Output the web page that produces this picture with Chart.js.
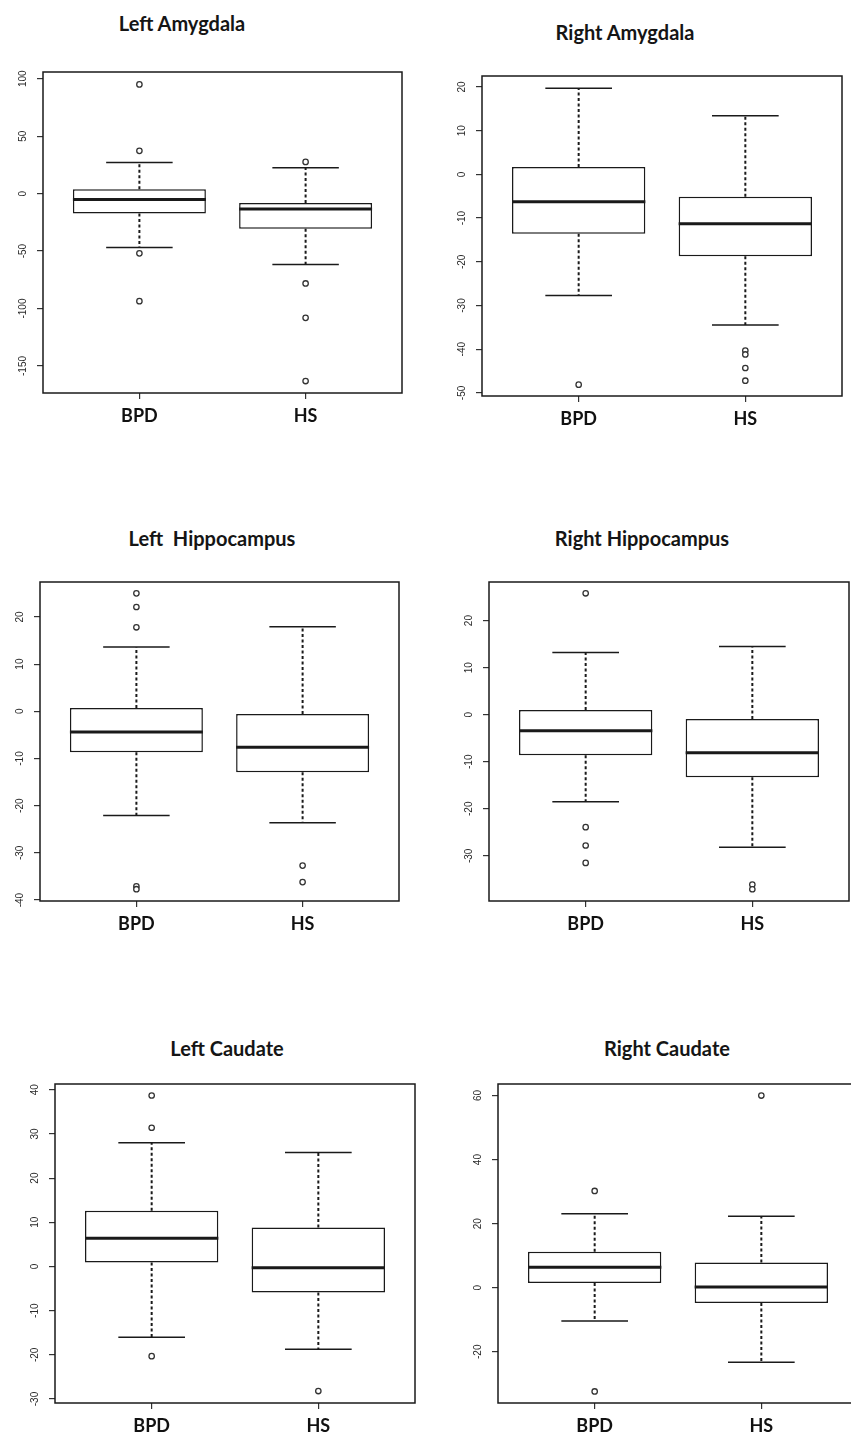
<!DOCTYPE html>
<html>
<head>
<meta charset="utf-8">
<title>BPD vs HS volumes</title>
<script src="https://cdn.jsdelivr.net/npm/chart.js@4.4.0/dist/chart.umd.min.js"></script>
<style>
  html, body { margin: 0; padding: 0; background: #fff; }
  body { position: relative; width: 851px; height: 1435px; overflow: hidden; }
  canvas.panel { position: absolute; }
  .title {
    position: absolute;
    font-family: Lato, "Open Sans", sans-serif;
    font-weight: bold;
    font-size: 20px;
    color: #151515;
    white-space: pre;
    transform: translate(-50%, -50%);
  }
</style>
</head>
<body>
<script>
// regions and groups
const regions = ['Left Amygdala', 'Right Amygdala', 'Left  Hippocampus', 'Right Hippocampus', 'Left Caudate', 'Right Caudate'];
const groups = ['BPD', 'HS'];

// [lower whisker, Q1, median, Q3, upper whisker] per region
const bpdStats = [
  [-46.8, -17.4, -5.2, 3.8, 27],
  [-27.7, -13.6, -6.25, 1.7, 19.7],
  [-22.1, -8.7, -4.4, 0.7, 13.6],
  [-18.5, -8.6, -3.4, 1.0, 13.2],
  [-16, 0.9, 6.4, 12.6, 28],
  [-10.4, 1.5, 6.4, 11.2, 23.1]
];
const hsStats = [
  [-61.6, -30.5, -13.4, -8.1, 22.4],
  [-34.45, -18.75, -11.3, -5.1, 13.4],
  [-23.6, -12.9, -7.6, -0.56, 17.9],
  [-28.2, -13.3, -8.1, -0.9, 14.5],
  [-18.75, -5.9, -0.3, 8.8, 25.8],
  [-23.3, -4.8, 0.2, 7.9, 22.3]
];
const bpdOutliers = [
  [95, 37.2, -52, -93.6],
  [-48.1],
  [25, 22.1, 17.8, -37.1, -37.7],
  [25.8, -23.9, -27.8, -31.5],
  [38.7, 31.4, -20.3],
  [30.2, -32.4]
];
const hsOutliers = [
  [27.6, -78.2, -108.1, -163.1],
  [-40.3, -41.2, -44.3, -47.2],
  [-32.7, -36.2],
  [-36.1, -37.1],
  [-28.2],
  [60]
];

// y axis ranges and tick steps
const yMin = [-173.5, -50.7, -40.2, -39.6, -30.9, -36];
const yMax = [105.8, 22.5, 27.4, 28.2, 41.3, 63.6];
const yStep = [50, 10, 10, 10, 10, 20];

// plot box placement: left, top, width, height   (layout only)
const boxes = [
  [43, 72, 359, 321],
  [482, 76, 360, 320],
  [40, 582, 359, 319],
  [489, 582, 360, 319],
  [55, 1084, 360, 319],
  [498, 1084, 360, 319]
];
const titlePos = [[182, 23], [625, 32], [212, 538], [642, 538], [227, 1048], [667, 1048]];

const INK = '#1a1a1a';

const frame = {
  id: 'frame',
  afterDraw(chart) {
    const a = chart.chartArea, ctx = chart.ctx;
    ctx.save();
    ctx.strokeStyle = INK;
    ctx.lineWidth = 1.5;
    ctx.strokeRect(a.left, a.top, a.right - a.left, a.bottom - a.top);
    ctx.restore();
  }
};

// R style y labels, turned to read upwards
const yLabels = {
  id: 'yLabels',
  afterDraw(chart) {
    const ctx = chart.ctx, y = chart.scales.y, a = chart.chartArea;
    ctx.save();
    ctx.font = '10px "Liberation Sans", Arial, sans-serif';
    ctx.fillStyle = '#2a2a2a';
    ctx.textAlign = 'center';
    ctx.textBaseline = 'middle';
    y.ticks.forEach(t => {
      ctx.save();
      ctx.translate(a.left - 20, y.getPixelForValue(t.value));
      ctx.rotate(-Math.PI / 2);
      ctx.fillText(String(t.value), 0, 0);
      ctx.restore();
    });
    ctx.restore();
  }
};

function buildPanel(i) {
  const box = boxes[i];
  const canvas = document.createElement('canvas');
  canvas.className = 'panel';
  canvas.width = box[2] + 48;
  canvas.height = box[3] + 48;
  canvas.style.width = canvas.width + 'px';
  canvas.style.height = canvas.height + 'px';
  canvas.style.left = (box[0] - 40) + 'px';
  canvas.style.top = (box[1] - 8) + 'px';
  document.body.appendChild(canvas);

  const title = document.createElement('div');
  title.className = 'title';
  title.textContent = regions[i];
  title.style.left = titlePos[i][0] + 'px';
  title.style.top = titlePos[i][1] + 'px';
  document.body.appendChild(title);

  const stats = [bpdStats[i], hsStats[i]];
  const outs = [bpdOutliers[i], hsOutliers[i]];

  const boxData = [], whiskers = [], caps = [], medians = [], points = [];
  stats.forEach((s, g) => {
    const x = g + 1;
    boxData.push({x: x, y: [s[1], s[3]]});
    whiskers.push({x: x, y: s[3]}, {x: x, y: s[4]}, {x: x, y: null},
                  {x: x, y: s[1]}, {x: x, y: s[0]}, {x: x, y: null});
    caps.push({x: x - 0.2, y: s[4]}, {x: x + 0.2, y: s[4]}, {x: x, y: null},
              {x: x - 0.2, y: s[0]}, {x: x + 0.2, y: s[0]}, {x: x, y: null});
    medians.push({x: x - 0.4, y: s[2]}, {x: x + 0.4, y: s[2]}, {x: x, y: null});
    outs[g].forEach(v => points.push({x: x, y: v}));
  });

  new Chart(canvas, {
    type: 'bar',
    data: {
      datasets: [
        {
          type: 'scatter', data: points,
          pointRadius: 2.7, pointBackgroundColor: '#fff',
          pointBorderColor: '#333', pointBorderWidth: 1.3
        },
        {
          type: 'line', data: medians, borderColor: INK, borderWidth: 3,
          pointRadius: 0, spanGaps: false, fill: false
        },
        {
          type: 'line', data: whiskers, borderColor: INK, borderWidth: 2,
          borderDash: [3, 2.5], pointRadius: 0, spanGaps: false, fill: false
        },
        {
          type: 'line', data: caps, borderColor: INK, borderWidth: 1.5,
          pointRadius: 0, spanGaps: false, fill: false
        },
        {
          type: 'bar', data: boxData,
          backgroundColor: '#fff', borderColor: INK, borderWidth: 1.5,
          borderSkipped: false, categoryPercentage: 0.8, barPercentage: 1
        }
      ]
    },
    options: {
      responsive: false,
      animation: false,
      events: [],
      layout: {padding: {top: 8, right: 8, left: 0, bottom: 0}},
      plugins: {legend: {display: false}, tooltip: {enabled: false}},
      scales: {
        x: {
          type: 'linear', min: 0.42, max: 2.58, offset: false,
          grid: {display: true, offset: false, drawOnChartArea: false, tickLength: 6, color: '#333', lineWidth: 1.2},
          border: {display: false},
          ticks: {
            font: {family: 'Lato', weight: 'bold', size: 18}, color: '#111',
            padding: 6, maxRotation: 0, autoSkip: false,
            callback: v => groups[v - 1]
          },
          afterBuildTicks: s => { s.ticks = groups.map((g, k) => ({value: k + 1})); },
          afterFit: s => { s.height = 40; }
        },
        y: {
          type: 'linear', min: yMin[i], max: yMax[i],
          grid: {drawOnChartArea: false, tickLength: 6, color: '#333', lineWidth: 1.2},
          border: {display: false},
          ticks: {display: false, stepSize: yStep[i], includeBounds: false},
          afterFit: s => { s.width = 40; }
        }
      }
    },
    plugins: [frame, yLabels]
  });
}

regions.forEach((r, i) => buildPanel(i));
</script>
</body>
</html>
